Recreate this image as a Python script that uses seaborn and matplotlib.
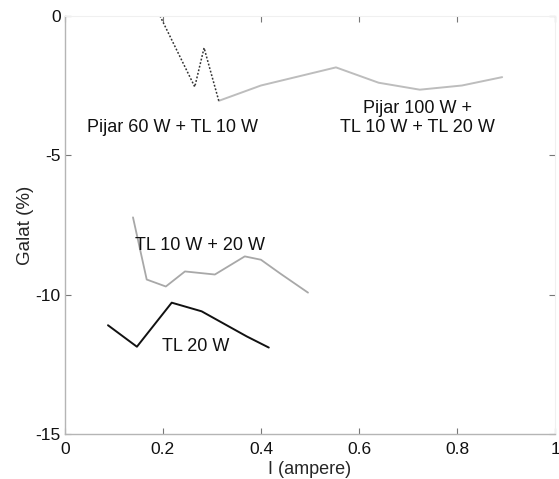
import matplotlib
matplotlib.use("Agg")
import matplotlib.pyplot as plt
import seaborn as sns

# Measured error (Galat, %) versus load current (I, ampere) for each lamp combination
pijar60_i = [0.194, 0.265, 0.284, 0.314]
pijar60_err = [0.0, -2.55, -1.15, -3.05]

pijar100_i = [0.314, 0.40, 0.553, 0.64, 0.724, 0.81, 0.892]
pijar100_err = [-3.05, -2.5, -1.85, -2.4, -2.65, -2.5, -2.2]

tl10_20_i = [0.139, 0.167, 0.206, 0.245, 0.306, 0.367, 0.40, 0.439, 0.496]
tl10_20_err = [-7.23, -9.46, -9.71, -9.17, -9.28, -8.63, -8.75, -9.24, -9.93]

tl20_i = [0.088, 0.147, 0.218, 0.279, 0.371, 0.416]
tl20_err = [-11.1, -11.87, -10.29, -10.6, -11.5, -11.9]

x_ticks = [0, 0.2, 0.4, 0.6, 0.8, 1]
x_tick_labels = ["0", "0.2", "0.4", "0.6", "0.8", "1"]
y_ticks = [0, -5, -10, -15]
y_tick_labels = ["0", "-5", "-10", "-15"]

sns.set_style("ticks")
plt.rcParams["font.family"] = ["Liberation Sans", "DejaVu Sans"]

fig = plt.figure(figsize=(5.59, 4.79), dpi=100)
ax = fig.add_axes([0.116, 0.094, 0.877, 0.873])

sns.lineplot(x=pijar100_i, y=pijar100_err, ax=ax, color="#bdbdbd", lw=1.4, sort=False)
sns.lineplot(x=pijar60_i, y=pijar60_err, ax=ax, color="#333333", lw=1.1,
             linestyle=(0, (1.2, 1.2)), sort=False)
sns.lineplot(x=tl10_20_i, y=tl10_20_err, ax=ax, color="#a8a8a8", lw=1.3, sort=False)
sns.lineplot(x=tl20_i, y=tl20_err, ax=ax, color="#111111", lw=1.4, sort=False)

label_kw = dict(ha="center", va="center", fontsize=13, color="#111111")
ax.text(0.22, -4.0, "Pijar 60 W + TL 10 W", **label_kw)
ax.text(0.72, -3.67, "Pijar 100 W +\nTL 10 W + TL 20 W", linespacing=1.2, **label_kw)
ax.text(0.276, -8.24, "TL 10 W + 20 W", **label_kw)
ax.text(0.267, -11.87, "TL 20 W", **label_kw)

ax.set_xlim(0, 1)
ax.set_ylim(-15, 0)
ax.set_xticks(x_ticks)
ax.set_xticklabels(x_tick_labels)
ax.set_yticks(y_ticks)
ax.set_yticklabels(y_tick_labels)
ax.tick_params(direction="in", length=4, width=0.8, color="#777777",
               labelsize=12.5, labelcolor="#111111", top=True, right=True)
ax.tick_params(axis="x", pad=6)
ax.tick_params(axis="y", pad=3)

for side in ["left", "bottom"]:
    ax.spines[side].set_color("#b5b5b5")
    ax.spines[side].set_linewidth(1.0)
for side in ["top", "right"]:
    ax.spines[side].set_visible(True)
    ax.spines[side].set_color("#f0f0f0")
    ax.spines[side].set_linewidth(0.8)

ax.set_xlabel("I (ampere)", fontsize=13, labelpad=3)
ax.set_ylabel("Galat (%)", fontsize=13.5, labelpad=1)

fig.savefig("out.png", dpi=100)
